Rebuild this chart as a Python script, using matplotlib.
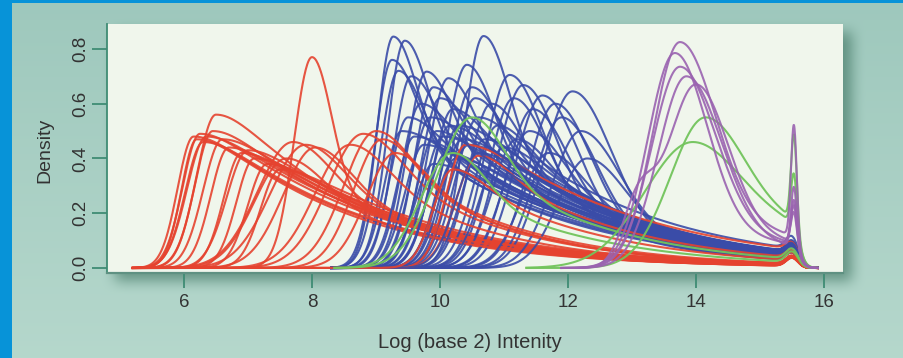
import numpy as np
import matplotlib
matplotlib.use("Agg")
import matplotlib.pyplot as plt

# ---------------- data ----------------
X_TICKS = [6, 8, 10, 12, 14, 16]
Y_TICKS = [0.0, 0.2, 0.4, 0.6, 0.8]
Y_TICK_LABELS = ["0.0", "0.2", "0.4", "0.6", "0.8"]
X_LABEL = "Log (base 2) Intenity"
Y_LABEL = "Density"
X_END = 15.9

# red samples: peak position / height, left width, right width, tail share, tail length
RED_PEAK_X = [6.15, 6.2, 6.25, 6.3, 6.35, 6.5, 6.45, 6.6, 6.7, 6.9, 7.1, 7.3, 7.5, 7.0,
              7.7, 7.9, 8.05, 7.6, 8.0, 8.8, 9.0, 9.1, 8.6, 9.3, 10.4, 10.6, 10.2]
RED_PEAK_Y = [0.48, 0.47, 0.49, 0.46, 0.48, 0.56, 0.50, 0.47, 0.44, 0.42, 0.40, 0.38, 0.36, 0.43,
              0.46, 0.45, 0.44, 0.40, 0.77, 0.49, 0.50, 0.47, 0.45, 0.42, 0.45, 0.41, 0.36]
RED_LEFT_W = [0.25, 0.24, 0.27, 0.28, 0.30, 0.30, 0.28, 0.30, 0.28, 0.28, 0.28, 0.30, 0.30, 0.33,
              0.55, 0.55, 0.50, 0.50, 0.28, 0.55, 0.50, 0.45, 0.55, 0.45, 0.30, 0.35, 0.30]
RED_RIGHT_W = [0.5] * 14 + [0.6, 0.6, 0.55, 0.6, 0.3, 0.6, 0.55, 0.5, 0.6, 0.5, 0.5, 0.5, 0.5]
RED_TAIL_FRAC = [1.0] * 14 + [0.65, 0.65, 0.65, 0.65, 0.35, 0.7, 0.7, 0.7, 0.7, 0.7, 1.0, 0.8, 0.8]
RED_TAIL_TAU = [2.3, 2.2, 2.4, 2.3, 2.5, 2.0, 2.2, 2.4, 2.3, 2.3, 2.4, 2.3, 2.4, 2.2,
                2.2, 2.2, 2.1, 2.2, 2.0, 2.0, 2.0, 1.9, 2.0, 1.9, 2.5, 2.1, 2.1]
RED_BUMP = [0.03] * 27
RED_START = 5.2

BLUE_PEAK_X = [9.27, 9.45, 9.25, 9.35, 9.55, 9.79, 9.9, 10.13, 10.0, 9.7, 9.5, 9.4, 9.85, 10.2,
               10.42, 10.5, 10.68, 10.55, 10.8, 10.3, 10.6, 11.09, 11.15, 11.3, 11.45, 11.6, 11.8,
               12.07, 11.9, 11.4, 11.2, 10.9, 10.05, 9.75, 10.45, 11.7, 12.2, 9.6, 10.1, 10.25,
               11.0, 12.3, 9.9, 10.7, 10.15, 10.35, 9.95, 10.6]
BLUE_PEAK_Y = [0.845, 0.83, 0.76, 0.72, 0.70, 0.717, 0.66, 0.693, 0.62, 0.60, 0.55, 0.50, 0.55,
               0.58, 0.742, 0.66, 0.847, 0.62, 0.60, 0.52, 0.55, 0.705, 0.62, 0.668, 0.58, 0.63,
               0.60, 0.645, 0.55, 0.50, 0.47, 0.52, 0.48, 0.45, 0.45, 0.42, 0.50, 0.48, 0.42,
               0.40, 0.44, 0.40, 0.38, 0.47, 0.52, 0.47, 0.50, 0.42]
BLUE_LEFT_W = [0.25, 0.27, 0.26, 0.28, 0.28, 0.30, 0.30, 0.32, 0.30, 0.30, 0.28, 0.27, 0.30,
               0.32, 0.33, 0.34, 0.30, 0.34, 0.35, 0.32, 0.35, 0.38, 0.38, 0.40, 0.40, 0.42,
               0.42, 0.45, 0.42, 0.40, 0.38, 0.36, 0.30, 0.30, 0.33, 0.42, 0.45, 0.28, 0.30,
               0.32, 0.36, 0.45, 0.30, 0.34, 0.30, 0.32, 0.30, 0.34]
BLUE_RIGHT_W = [0.35, 0.35, 0.38, 0.38, 0.40, 0.40, 0.42, 0.42, 0.42, 0.40, 0.40, 0.40, 0.42,
                0.45, 0.42, 0.45, 0.40, 0.45, 0.48, 0.45, 0.48, 0.50, 0.50, 0.52, 0.52, 0.55,
                0.55, 0.60, 0.55, 0.52, 0.50, 0.48, 0.42, 0.40, 0.45, 0.55, 0.60, 0.40, 0.42,
                0.45, 0.48, 0.60, 0.42, 0.45, 0.42, 0.45, 0.42, 0.45]
BLUE_TAIL_FRAC = [0.55, 0.55, 0.60, 0.60, 0.65, 0.60, 0.70, 0.60, 0.80, 0.85, 0.90, 1.00, 0.95,
                  0.85, 0.50, 0.60, 0.45, 0.70, 0.60, 1.00, 0.90, 0.40, 0.45, 0.35, 0.45, 0.30,
                  0.30, 0.25, 0.30, 0.60, 0.70, 0.80, 1.00, 1.00, 1.00, 0.60, 0.35, 1.00, 1.00,
                  1.00, 0.90, 0.40, 1.00, 0.90, 0.95, 1.00, 0.95, 1.00]
BLUE_TAIL_TAU = [2.4, 2.4, 2.3, 2.4, 2.3, 2.3, 2.2, 2.3, 2.3, 2.3, 2.2, 2.3, 2.2, 2.3, 2.3, 2.2,
                 2.3, 2.2, 2.2, 2.2, 2.3, 2.0, 2.0, 1.9, 1.9, 1.8, 1.8, 1.8, 1.8, 2.0, 2.1, 2.1,
                 2.2, 2.3, 2.2, 1.9, 1.8, 2.3, 2.2, 2.3, 2.1, 1.8, 2.4, 2.2, 2.3, 2.2, 2.3, 2.1]
BLUE_BUMP = [0.04, 0.03, 0.04, 0.05, 0.03, 0.04, 0.04, 0.03, 0.05, 0.04, 0.03, 0.04, 0.04, 0.03,
             0.04, 0.05, 0.03, 0.04, 0.04, 0.03, 0.05, 0.04, 0.03, 0.04, 0.04, 0.03, 0.04, 0.04,
             0.03, 0.04, 0.05, 0.04, 0.03, 0.04, 0.04, 0.03, 0.04, 0.03, 0.04, 0.05, 0.04, 0.03,
             0.04, 0.04, 0.03, 0.04, 0.04, 0.03]
BLUE_START = 8.3

PURPLE_PEAK_X = [13.75, 13.67, 13.75, 14.0, 13.85]
PURPLE_PEAK_Y = [0.825, 0.785, 0.735, 0.67, 0.70]
PURPLE_LEFT_W = [0.42, 0.42, 0.44, 0.45, 0.44]
PURPLE_RIGHT_W = [0.55, 0.50, 0.55, 0.50, 0.55]
PURPLE_TAIL_FRAC = [0.22, 0.18, 0.19, 0.20, 0.16]
PURPLE_TAIL_TAU = [3.0, 3.0, 3.0, 3.0, 3.0]
PURPLE_SPIKE = [0.42, 0.22, 0.15, 0.12, 0.18]
PURPLE_SHOULDER = [0.0, 0.0, 0.0, 0.22, 0.0]
PURPLE_START = 11.9

GREEN_PEAK_X = [10.5, 10.2, 14.15, 13.95]
GREEN_PEAK_Y = [0.55, 0.42, 0.55, 0.46]
GREEN_LEFT_W = [0.55, 0.50, 0.55, 0.75]
GREEN_RIGHT_W = [0.50, 0.50, 0.60, 0.75]
GREEN_TAIL_FRAC = [0.60, 0.60, 0.40, 0.45]
GREEN_TAIL_TAU = [2.0, 2.0, 3.0, 3.0]
GREEN_SPIKE = [0.0, 0.0, 0.33, 0.20]
GREEN_BUMP = [0.04, 0.04, 0.0, 0.0]
GREEN_START = [8.35, 8.35, 11.35, 11.35]

RED = "#E5432F"
BLUE = "#3A4CA8"
PURPLE = "#9A63B0"
GREEN = "#72C45C"

# ---------------- curve shape ----------------
S = 0.5
SHOULDER_X = 13.1


def curve(start, px, py, wl, wr, t, tau, bump=0.0, spike=0.0, shoulder=0.0):
    x = np.linspace(start, X_END, 900)
    d = x - px
    left = np.exp(-0.5 * (d / wl) ** 2)
    hyp = np.exp(-(S / tau) * (np.sqrt(1 + (d / S) ** 2) - 1))
    right = (1 - t) * np.exp(-0.5 * (d / wr) ** 2) + t * hyp
    core = py * np.where(d < 0, left, right)
    core = core + shoulder * np.exp(-0.5 * ((x - SHOULDER_X) / 0.25) ** 2)
    cut = 1.0 / (1.0 + np.exp((x - 15.62) / 0.05))
    y = core * cut
    y = y + bump * np.exp(-0.5 * ((x - 15.5) / 0.09) ** 2)
    y = y + spike * np.exp(-0.5 * ((x - 15.53) / 0.045) ** 2)
    return x, y


# ---------------- figure / background ----------------
W, H = 904, 358
fig = plt.figure(figsize=(W / 100, H / 100), dpi=100)

P_L, P_R, P_T, P_B = 107, 843, 24, 273

yy = np.linspace(0, 1, H)[:, None]
top_c = np.array([0.62, 0.785, 0.74])
bot_c = np.array([0.71, 0.845, 0.80])
img = (top_c[None, None, :] * (1 - yy[..., None]) + bot_c[None, None, :] * yy[..., None]) * np.ones((H, W, 1))


def box_blur(a, r):
    k = 2 * r + 1
    p = np.pad(a, r, mode="edge")
    c = np.cumsum(np.cumsum(p, 0), 1)
    c = np.pad(c, ((1, 0), (1, 0)))
    return (c[k:, k:] - c[:-k, k:] - c[k:, :-k] + c[:-k, :-k]) / k ** 2


mask = np.zeros((H, W))
mask[P_T + 8:P_B + 8, P_L + 8:P_R + 9] = 1.0
mask = box_blur(box_blur(mask, 7), 7)
dark = np.array([0.30, 0.50, 0.43])
a = 0.75 * mask[..., None]
img = img * (1 - a) + dark[None, None, :] * a
blue_border = np.array([0.03, 0.58, 0.85])
img[:, :12] = blue_border
img[:3, :] = blue_border

bg = fig.add_axes([0, 0, 1, 1], zorder=-10)
bg.imshow(img, aspect="auto", interpolation="bilinear")
bg.set_axis_off()

ax = fig.add_axes([P_L / W, 1 - P_B / H, (P_R - P_L) / W, (P_B - P_T) / H])
ax.set_facecolor("#F0F6EC")
ax.set_xlim(4.797, 16.297)
ax.set_ylim(-0.0183, 0.891)

LW = 1.5
# red and blue samples are interleaved in drawing order
n_b, n_r = len(BLUE_PEAK_X), len(RED_PEAK_X)
slots = {}
for i in range(n_r):
    slots.setdefault(int(round(i * (n_b - 1) / (n_r - 1))), []).append(i)
order = []
for j in range(n_b):
    order.append(("b", j))
    for i in slots.get(j, []):
        order.append(("r", i))

for kind, i in order:
    if kind == "r":
        x, y = curve(RED_START, RED_PEAK_X[i], RED_PEAK_Y[i], RED_LEFT_W[i], RED_RIGHT_W[i],
                     RED_TAIL_FRAC[i], RED_TAIL_TAU[i], bump=RED_BUMP[i])
        ax.plot(x, y, color=RED, lw=LW, alpha=0.9)
    else:
        x, y = curve(BLUE_START, BLUE_PEAK_X[i], BLUE_PEAK_Y[i], BLUE_LEFT_W[i], BLUE_RIGHT_W[i],
                     BLUE_TAIL_FRAC[i], BLUE_TAIL_TAU[i], bump=BLUE_BUMP[i])
        ax.plot(x, y, color=BLUE, lw=LW, alpha=0.9)

for i in range(len(GREEN_PEAK_X)):
    x, y = curve(GREEN_START[i], GREEN_PEAK_X[i], GREEN_PEAK_Y[i], GREEN_LEFT_W[i], GREEN_RIGHT_W[i],
                 GREEN_TAIL_FRAC[i], GREEN_TAIL_TAU[i], bump=GREEN_BUMP[i], spike=GREEN_SPIKE[i])
    ax.plot(x, y, color=GREEN, lw=LW, alpha=0.95)

for i in range(len(PURPLE_PEAK_X)):
    x, y = curve(PURPLE_START, PURPLE_PEAK_X[i], PURPLE_PEAK_Y[i], PURPLE_LEFT_W[i], PURPLE_RIGHT_W[i],
                 PURPLE_TAIL_FRAC[i], PURPLE_TAIL_TAU[i], spike=PURPLE_SPIKE[i],
                 shoulder=PURPLE_SHOULDER[i])
    ax.plot(x, y, color=PURPLE, lw=LW, alpha=0.9)

# ---------------- axes styling (R-like) ----------------
TEAL = "#3F8C74"
for s in ["top", "right"]:
    ax.spines[s].set_visible(False)
ax.spines["left"].set_color(TEAL)
ax.spines["left"].set_linewidth(1.3)
ax.spines["bottom"].set_color("#5F9182")
ax.spines["bottom"].set_linewidth(1.6)

FONT = "Liberation Sans"
ax.set_xticks(X_TICKS)
ax.set_xticklabels([str(v) for v in X_TICKS], fontsize=13.5, family=FONT, color="#333333")
ax.set_yticks(Y_TICKS)
ax.set_yticklabels(Y_TICK_LABELS, fontsize=13.5, family=FONT, color="#333333",
                   rotation=90, va="center")
ax.tick_params(axis="both", direction="out", length=11, width=1.3, color=TEAL)
ax.tick_params(axis="x", pad=4)
ax.tick_params(axis="y", pad=1.5)

fig.text(470 / W, 1 - 343 / H, X_LABEL, ha="center", va="center", fontsize=14.5,
         family=FONT, color="#333333")
fig.text(45 / W, 1 - 150 / H, Y_LABEL, ha="center", va="center", rotation=90, fontsize=14,
         family=FONT, color="#333333")

fig.savefig("out.png", dpi=100)
